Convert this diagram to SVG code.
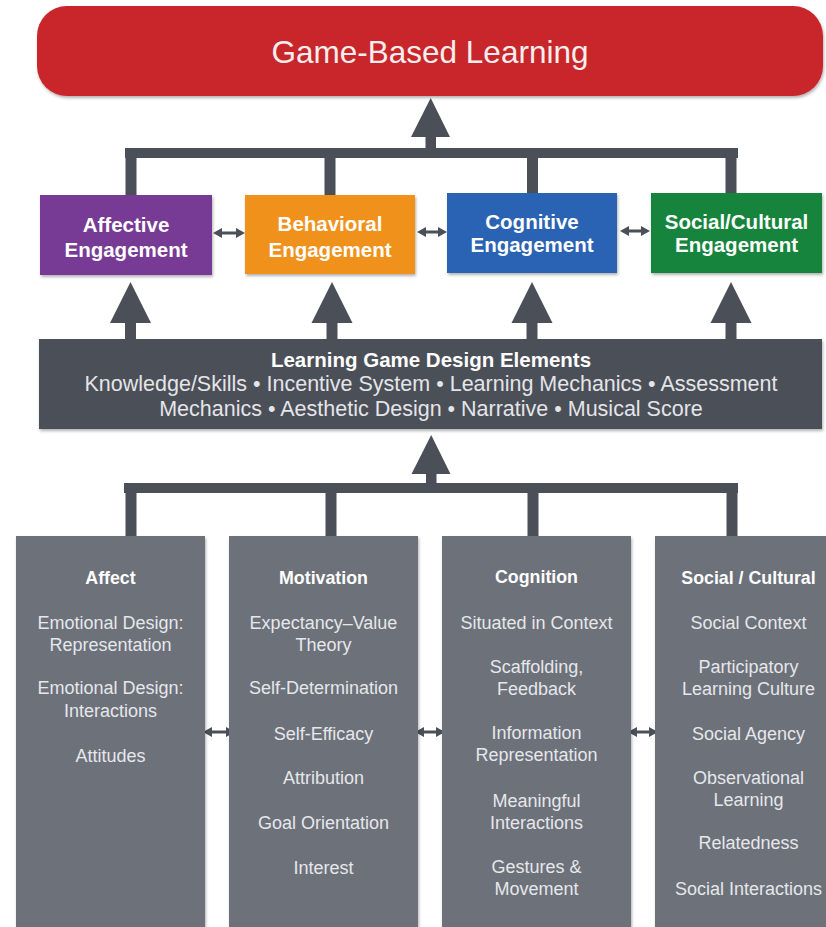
<svg xmlns="http://www.w3.org/2000/svg" width="826" height="927" viewBox="0 0 826 927">
<defs>
<filter id="sh" x="-10%" y="-10%" width="120%" height="130%">
<feDropShadow dx="1" dy="2" stdDeviation="1.6" flood-color="#000" flood-opacity="0.3"/>
</filter>
</defs>
<style>
text{font-family:"Liberation Sans",Arial,Helvetica,sans-serif;text-anchor:middle}
.title{font-size:31.5px;fill:#f6eeee}
.eng{font-size:20.5px;font-weight:bold;fill:#ffffff}
.dtitle{font-size:20.5px;font-weight:bold;fill:#ffffff}
.dline{font-size:21.5px;fill:#e4e5e8}
.head{font-size:17.8px;font-weight:bold;fill:#ffffff}
.item{font-size:18px;fill:#e6e7ea}
.conn{fill:#4a4f58}
.col{fill:#6c717a}
</style>
<rect width="826" height="927" fill="#ffffff"/>

<g id="connectors">
<rect class="conn" x="125" y="148" width="613" height="10"/>
<rect class="conn" x="125.5" y="150" width="11" height="46"/>
<rect class="conn" x="324.5" y="150" width="11" height="46"/>
<rect class="conn" x="527" y="150" width="11" height="44"/>
<rect class="conn" x="725.5" y="150" width="11" height="44"/>
<rect class="conn" x="425.5" y="130" width="10.5" height="20"/>
<polygon class="conn" points="411,137 450,137 430.7,98"/>
<rect class="conn" x="125" y="318" width="11" height="22"/>
<polygon class="conn" points="110,323 151,323 130.5,282"/>
<rect class="conn" x="326.5" y="318" width="11" height="22"/>
<polygon class="conn" points="311.5,323 352.5,323 332,282"/>
<rect class="conn" x="526.5" y="318" width="11" height="22"/>
<polygon class="conn" points="511.5,323 552.5,323 532,282"/>
<rect class="conn" x="725.5" y="318" width="11" height="22"/>
<polygon class="conn" points="710.5,323 751.5,323 731,282"/>
<rect class="conn" x="124" y="483" width="614" height="10"/>
<rect class="conn" x="125.5" y="485" width="11" height="53"/>
<rect class="conn" x="325.5" y="485" width="11" height="53"/>
<rect class="conn" x="527.5" y="485" width="11" height="53"/>
<rect class="conn" x="726.5" y="485" width="11" height="53"/>
<rect class="conn" x="426" y="468" width="10.5" height="17"/>
<polygon class="conn" points="411.5,474 450.5,474 431.2,435"/>
<polygon class="conn" points="213,233 222,228 222,231.5 236,231.5 236,228 245,233 236,238 236,234.5 222,234.5 222,238"/>
<polygon class="conn" points="417,232 426,227 426,230.5 438,230.5 438,227 447,232 438,237 438,233.5 426,233.5 426,237"/>
<polygon class="conn" points="620,231 629,226 629,229.5 641,229.5 641,226 650,231 641,236 641,232.5 629,232.5 629,236"/>
<polygon class="conn" points="203,732 212,727 212,730.5 226,730.5 226,727 235,732 226,737 226,733.5 212,733.5 212,737"/>
<polygon class="conn" points="415,732 424,727 424,730.5 436,730.5 436,727 445,732 436,737 436,733.5 424,733.5 424,737"/>
<polygon class="conn" points="628,732 637,727 637,730.5 649,730.5 649,727 658,732 649,737 649,733.5 637,733.5 637,737"/>
</g>

<g id="game-based-learning">
<rect x="37" y="6" width="786" height="90" rx="30" ry="30" fill="#c8272a" filter="url(#sh)"/>
<text class="title" x="430" y="63">Game-Based Learning</text>
</g>

<g id="affective-engagement">
<rect x="40" y="195" width="172" height="80" fill="#773a95" filter="url(#sh)"/>
<text class="eng" x="126" y="232">Affective</text>
<text class="eng" x="126" y="257">Engagement</text>
</g>
<g id="behavioral-engagement">
<rect x="245" y="195" width="170" height="79" fill="#f0911f" filter="url(#sh)"/>
<text class="eng" x="330" y="231">Behavioral</text>
<text class="eng" x="330" y="257">Engagement</text>
</g>
<g id="cognitive-engagement">
<rect x="447" y="193" width="170" height="80" fill="#2964b4" filter="url(#sh)"/>
<text class="eng" x="532" y="229">Cognitive</text>
<text class="eng" x="532" y="252">Engagement</text>
</g>
<g id="social-cultural-engagement">
<rect x="651" y="193" width="171" height="80" fill="#17843e" filter="url(#sh)"/>
<text class="eng" x="736.5" y="229">Social/Cultural</text>
<text class="eng" x="736.5" y="252">Engagement</text>
</g>

<g id="design-elements">
<rect x="39" y="339" width="783" height="90" fill="#4b5058" filter="url(#sh)"/>
<text class="dtitle" x="431" y="367">Learning Game Design Elements</text>
<text class="dline" x="431" y="391">Knowledge/Skills • Incentive System • Learning Mechanics • Assessment</text>
<text class="dline" x="431" y="416">Mechanics • Aesthetic Design • Narrative • Musical Score</text>
</g>

<g id="affect">
<rect class="col" x="16" y="536" width="189" height="400" filter="url(#sh)"/>
<text class="head" x="110.5" y="584">Affect</text>
<text class="item" x="110.5" y="629">Emotional Design:</text>
<text class="item" x="110.5" y="651">Representation</text>
<text class="item" x="110.5" y="694">Emotional Design:</text>
<text class="item" x="110.5" y="717">Interactions</text>
<text class="item" x="110.5" y="762">Attitudes</text>
</g>

<g id="motivation">
<rect class="col" x="229" y="536" width="189" height="400" filter="url(#sh)"/>
<text class="head" x="323.5" y="584">Motivation</text>
<text class="item" x="323.5" y="629">Expectancy–Value</text>
<text class="item" x="323.5" y="651">Theory</text>
<text class="item" x="323.5" y="694">Self-Determination</text>
<text class="item" x="323.5" y="740">Self-Efficacy</text>
<text class="item" x="323.5" y="784">Attribution</text>
<text class="item" x="323.5" y="829">Goal Orientation</text>
<text class="item" x="323.5" y="874">Interest</text>
</g>

<g id="cognition">
<rect class="col" x="442" y="536" width="189" height="400" filter="url(#sh)"/>
<text class="head" x="536.5" y="583">Cognition</text>
<text class="item" x="536.5" y="629">Situated in Context</text>
<text class="item" x="536.5" y="673">Scaffolding,</text>
<text class="item" x="536.5" y="695">Feedback</text>
<text class="item" x="536.5" y="739">Information</text>
<text class="item" x="536.5" y="761">Representation</text>
<text class="item" x="536.5" y="807">Meaningful</text>
<text class="item" x="536.5" y="829">Interactions</text>
<text class="item" x="536.5" y="873">Gestures &amp;</text>
<text class="item" x="536.5" y="895">Movement</text>
</g>

<g id="social-cultural">
<rect class="col" x="655" y="536" width="190" height="400" filter="url(#sh)"/>
<text class="head" x="748.5" y="584">Social / Cultural</text>
<text class="item" x="748.5" y="629">Social Context</text>
<text class="item" x="748.5" y="673">Participatory</text>
<text class="item" x="748.5" y="695">Learning Culture</text>
<text class="item" x="748.5" y="740">Social Agency</text>
<text class="item" x="748.5" y="784">Observational</text>
<text class="item" x="748.5" y="806">Learning</text>
<text class="item" x="748.5" y="849">Relatedness</text>
<text class="item" x="748.5" y="895">Social Interactions</text>
</g>
</svg>
